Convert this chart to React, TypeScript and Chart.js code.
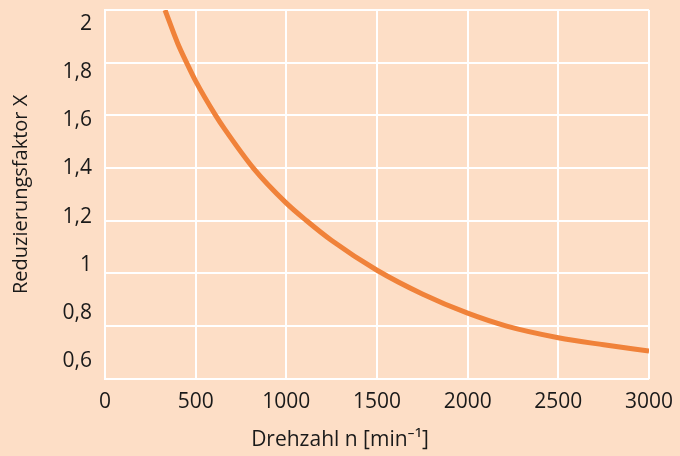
import React, { useEffect, useRef } from "react";
import { Chart, registerables } from "chart.js";

Chart.register(...registerables);

// Drehzahl n [min^-1]
const speeds = [331, 400, 450, 500, 610, 662, 818, 1000, 1112, 1250, 1500, 1750, 2000, 2215, 2500, 2750, 3000];
// Reduzierungsfaktor X
const factors = [2.0, 1.875, 1.8, 1.73, 1.6, 1.546, 1.4, 1.267, 1.2, 1.125, 1.012, 0.922, 0.849, 0.8, 0.756, 0.729, 0.705];

const yTickValues = [2, 1.8, 1.6, 1.4, 1.2, 1, 0.8, 0.6];
const yTickLabels = ["2", "1,8", "1,6", "1,4", "1,2", "1", "0,8", "0,6"];
const xTickValues = [0, 500, 1000, 1500, 2000, 2500, 3000];

const BG = "#fddec6";
const LINE = "#f0823a";
const TEXT = "#1a1a1a";
const FONT = "'Open Sans', 'Noto Sans', sans-serif";

export default function App() {
  const ref = useRef<HTMLCanvasElement | null>(null);

  useEffect(() => {
    document.body.style.margin = "0";
    document.body.style.background = BG;
    const canvas = ref.current;
    if (!canvas) return;
    const chart = new Chart(canvas, {
      type: "line",
      data: {
        datasets: [
          {
            data: speeds.map((n, i) => ({ x: n, y: factors[i] })),
            borderColor: LINE,
            borderWidth: 5,
            pointRadius: 0,
            fill: false,
            cubicInterpolationMode: "monotone",
            borderCapStyle: "butt",
          },
        ],
      },
      options: {
        animation: false,
        responsive: false,
        maintainAspectRatio: false,
        layout: { padding: { top: 10, right: 0, left: 0, bottom: 0 } },
        plugins: {
          legend: { display: false },
          tooltip: { enabled: false },
          title: {
            display: true,
            position: "bottom",
            text: "Drehzahl n [min⁻¹]",
            color: TEXT,
            font: { family: FONT, size: 21, weight: "normal" },
            padding: { top: 0, bottom: 3 },
          },
        },
        scales: {
          x: {
            type: "linear",
            min: 0,
            max: 3000,
            afterBuildTicks: (s: any) => {
              s.ticks = xTickValues.map((v) => ({ value: v }));
            },
            ticks: {
              color: TEXT,
              font: { family: FONT, size: 21 },
              padding: 11,
              maxRotation: 0,
              callback: (v: any) => String(v),
            },
            grid: { color: "#ffffff", lineWidth: 2, drawTicks: false },
            border: { display: false },
            afterFit: (s: any) => {
              s.height = 49;
              s.paddingLeft = 0;
              s.paddingRight = 31;
            },
          },
          y: {
            type: "linear",
            position: "left",
            weight: 0,
            min: 0.6,
            max: 2,
            afterBuildTicks: (s: any) => {
              s.ticks = yTickValues.map((v) => ({ value: v }));
            },
            ticks: { display: false },
            grid: { color: "#ffffff", lineWidth: 2, drawTicks: false },
            border: { display: true, color: "#ffffff", width: 2 },
            afterFit: (s: any) => {
              s.width = 0;
              s.paddingTop = 0;
              s.paddingBottom = 0;
            },
          },
          yLabels: {
            type: "linear",
            position: "left",
            weight: 1,
            min: 0.525,
            max: 2.059,
            afterBuildTicks: (s: any) => {
              s.ticks = yTickValues.map((v) => ({ value: v }));
            },
            ticks: {
              color: TEXT,
              font: { family: FONT, size: 21 },
              padding: 13,
              callback: (v: any) => {
                let best = 0;
                yTickValues.forEach((t, i) => {
                  if (Math.abs(t - v) < Math.abs(yTickValues[best] - v)) best = i;
                });
                return yTickLabels[best];
              },
            },
            grid: { display: false, drawTicks: false },
            border: { display: false },
            title: {
              display: true,
              text: "Reduzierungsfaktor X",
              color: TEXT,
              font: { family: FONT, size: 20 },
              padding: { top: 9, bottom: 0 },
            },
            afterFit: (s: any) => {
              s.width = 105;
              s.paddingTop = 0;
              s.paddingBottom = 0;
            },
          },
        },
      },
    });
    return () => chart.destroy();
  }, []);

  return (
    <div style={{ width: 680, height: 456, background: BG }}>
      <canvas ref={ref} width={680} height={456} style={{ display: "block" }} />
    </div>
  );
}
